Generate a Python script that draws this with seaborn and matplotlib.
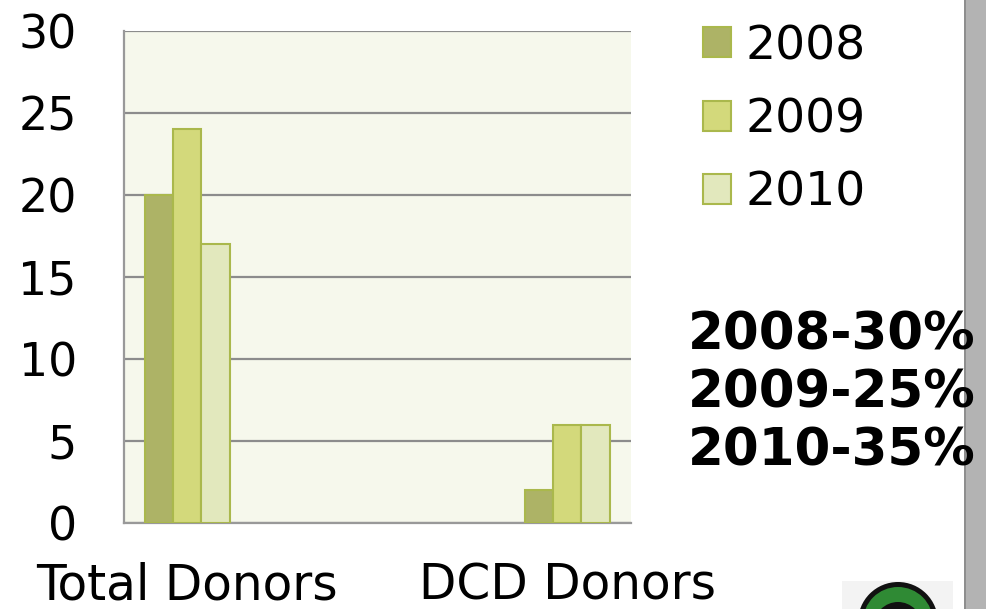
import pandas as pd
import numpy as np
import matplotlib.pyplot as plt
import seaborn as sns
from matplotlib.patches import Patch, Rectangle, Circle

# data
groups = ['Total Donors', 'DCD Donors']
years = ['2008', '2009', '2010']
total_donors = [20, 24, 17]
dcd_donors = [2, 6, 6]
yticks = [0, 5, 10, 15, 20, 25, 30]
dcd_share = ['2008-30%', '2009-25%', '2010-35%']

colors = ['#adb366', '#d3d97b', '#e2e8bd']
edge = '#aab84c'

df = pd.DataFrame({
    'group': [groups[0]] * 3 + [groups[1]] * 3,
    'year': years + years,
    'donors': total_donors + dcd_donors,
})

plt.rcParams['font.family'] = ['DejaVu Sans']

W, H = 986, 609
fig = plt.figure(figsize=(W / 100, H / 100), dpi=100)
fig.patch.set_facecolor('white')

ax = fig.add_axes([124 / W, 1 - 523 / H, 507 / W, 492 / H])
sns.barplot(data=df, x='group', y='donors', hue='year', hue_order=years,
            palette=colors, saturation=1, width=0.224, edgecolor=edge,
            linewidth=1.5, legend=False, ax=ax, zorder=3)

ax.set_facecolor('#f6f8ec')
ax.set_xlim(-0.166, 1.168)
ax.set_ylim(0, 30)
ax.set_yticks(yticks)
ax.yaxis.grid(True, color='#8c8c8c', linewidth=1.6)
ax.set_axisbelow(True)
ax.set_xlabel('')
ax.set_ylabel('')
for s in ['top', 'right']:
    ax.spines[s].set_visible(False)
for s in ['left', 'bottom']:
    ax.spines[s].set_color('#999999')
    ax.spines[s].set_linewidth(1.6)
ax.tick_params(axis='y', length=0, labelsize=33, pad=34)
ax.tick_params(axis='x', length=0, labelsize=35, pad=28)

handles = [Patch(facecolor=c, edgecolor=edge, linewidth=1.5) for c in colors]
fig.legend(handles, years, loc='upper left', bbox_to_anchor=(703 / W, 1 - 24 / H),
           frameon=False, fontsize=34, borderpad=0, borderaxespad=0,
           handlelength=0.6, handleheight=0.6, handletextpad=0.3,
           labelspacing=0.6)

# bold summary text
for i, t in enumerate(dcd_share):
    fig.text(688 / W, 1 - (335 + 58 * i) / H, t, fontsize=37, fontweight='bold',
             va='center', ha='left', zorder=5)

# grey side bar
fig.add_artist(Rectangle((964 / W, 0), 22 / W, 1, transform=fig.transFigure,
                         facecolor='#b3b3b3', edgecolor='none', zorder=1))
fig.add_artist(Rectangle((964 / W, 0), 2 / W, 1, transform=fig.transFigure,
                         facecolor='#8e8e8e', edgecolor='none', zorder=1))

# logo peeking at the bottom
lax = fig.add_axes([842 / W, 0, 111 / W, 28 / H])
lax.set_xlim(842, 953)
lax.set_ylim(609, 581)
lax.set_facecolor('#f3f3f3')
lax.set_xticks([])
lax.set_yticks([])
for s in lax.spines.values():
    s.set_visible(False)
lax.add_patch(Circle((898, 622), 40, facecolor='#111111', edgecolor='none'))
lax.add_patch(Circle((898, 622), 35, facecolor='#2f8a34', edgecolor='none'))
lax.add_patch(Circle((898, 626), 24, facecolor='#111111', edgecolor='none'))

plt.savefig('out.png', dpi=100)
